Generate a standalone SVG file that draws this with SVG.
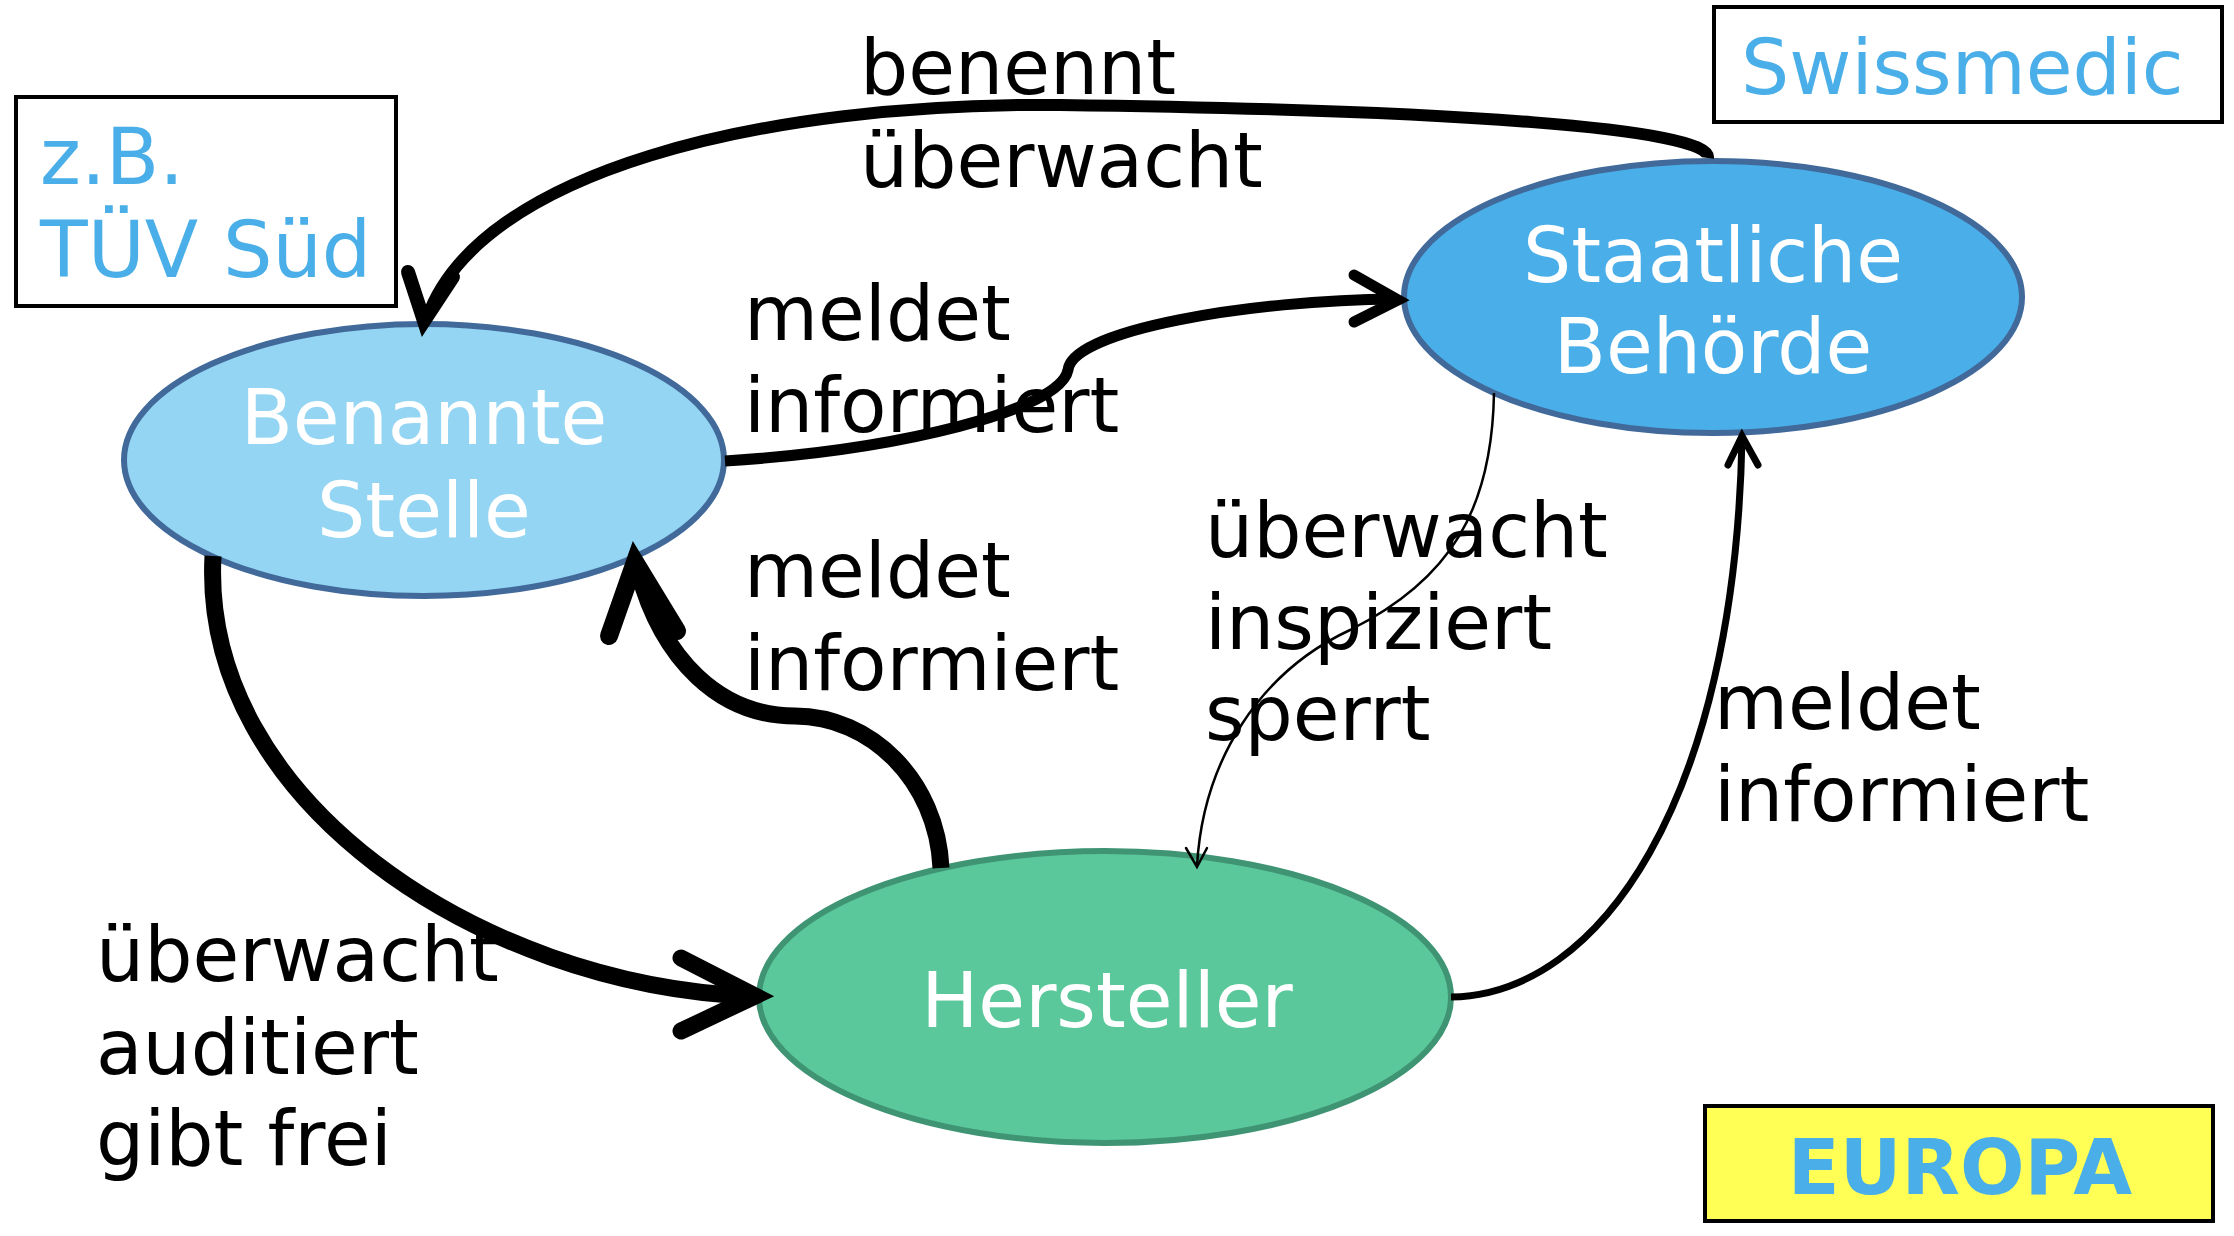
<svg xmlns="http://www.w3.org/2000/svg" width="2234" height="1236" viewBox="0 0 2234 1236">
<style>
text{font-family:"DejaVu Sans","Liberation Sans",sans-serif;font-size:76px}
.lbl{fill:#000}
.node{fill:#fff;text-anchor:middle}
.blue{fill:#4aaee8}
.big{font-size:78px}
.box{fill:#fff;stroke:#000;stroke-width:4}
.line{fill:none;stroke:#000;stroke-linecap:butt}
.head{fill:none;stroke:#000;stroke-linecap:round;stroke-linejoin:miter;stroke-miterlimit:10}
</style>
<rect width="2234" height="1236" fill="#fff"/>

<g id="tuev-box">
<rect class="box" x="16" y="97" width="380" height="209"/>
<text class="blue big" x="40" y="184">z.B.</text>
<text class="blue big" x="40" y="277">TÜV Süd</text>
</g>

<g id="swissmedic-box">
<rect class="box" x="1714" y="7" width="508" height="115"/>
<text class="blue" x="1741" y="94">Swissmedic</text>
</g>

<g id="europa-box">
<rect x="1705" y="1106" width="508" height="115" fill="#ffff55" stroke="#000" stroke-width="4"/>
<text class="blue" x="1960" y="1194" text-anchor="middle" font-weight="bold">EUROPA</text>
</g>

<g id="benannte-stelle">
<ellipse cx="424" cy="460" rx="300" ry="136" fill="#93d5f2" stroke="#41699a" stroke-width="6"/>
<text class="node" x="424" y="444">Benannte</text>
<text class="node" x="424" y="537">Stelle</text>
</g>

<g id="staatliche-behoerde">
<ellipse cx="1713" cy="297" rx="309" ry="136" fill="#4aaee8" stroke="#41699a" stroke-width="6"/>
<text class="node" x="1713" y="282">Staatliche</text>
<text class="node" x="1713" y="373">Behörde</text>
</g>

<g id="hersteller">
<ellipse cx="1105" cy="997" rx="346" ry="146" fill="#5bc89b" stroke="#3f9474" stroke-width="6"/>
<text class="node" x="1107" y="1027">Hersteller</text>
</g>

<g id="connectors">
<!-- benennt / ueberwacht: Staatliche -> Benannte -->
<path class="line" stroke-width="12" d="M 1708 158 C 1712 128, 1450 110, 1060 105 C 760 102, 478 172, 427 318"/>
<polyline class="head" stroke-width="14" points="408,272 424,321 453,277"/>
<!-- meldet informiert: Benannte -> Staatliche -->
<path class="line" stroke-width="11" d="M 725 461 C 900 450, 1060 410, 1068 370 C 1072 330, 1250 300, 1396 299"/>
<polyline class="head" stroke-width="11" points="1354,275 1398,300 1354,322"/>
<!-- meldet informiert: Hersteller -> Benannte -->
<path class="line" stroke-width="17" d="M 941 868 C 937 780, 870 716, 795 716 C 720 716, 662 660, 638 570"/>
<polyline class="head" stroke-width="18" points="609,636 635,562 677,631"/>
<!-- ueberwacht auditiert gibt frei: Benannte -> Hersteller -->
<path class="line" stroke-width="17" d="M 213 556 C 200 800, 480 985, 750 996"/>
<polyline class="head" stroke-width="17" points="681,958 755,996 681,1031"/>
<!-- ueberwacht inspiziert sperrt: Staatliche -> Hersteller -->
<path class="line" stroke-width="2.5" d="M 1494 393 C 1492 510, 1450 580, 1350 630 C 1260 672, 1203 760, 1197 866"/>
<polyline class="head" stroke-width="2.5" points="1186,848 1197,867 1207,848"/>
<!-- meldet informiert: Hersteller -> Staatliche -->
<path class="line" stroke-width="7" d="M 1451 997 C 1600 995, 1735 800, 1742 438"/>
<polyline class="head" stroke-width="7" points="1728,465 1742,436 1758,465"/>
</g>

<g id="labels">
<text class="lbl" x="860" y="94">benennt</text>
<text class="lbl" x="860" y="187">überwacht</text>
<text class="lbl" x="744" y="340">meldet</text>
<text class="lbl" x="744" y="432">informiert</text>
<text class="lbl" x="744" y="597">meldet</text>
<text class="lbl" x="744" y="690">informiert</text>
<text class="lbl" x="1205" y="557">überwacht</text>
<text class="lbl" x="1205" y="649">inspiziert</text>
<text class="lbl" x="1205" y="740">sperrt</text>
<text class="lbl" x="1714" y="729">meldet</text>
<text class="lbl" x="1714" y="821">informiert</text>
<text class="lbl" x="96" y="981">überwacht</text>
<text class="lbl" x="96" y="1074">auditiert</text>
<text class="lbl" x="96" y="1165">gibt frei</text>
</g>
</svg>
